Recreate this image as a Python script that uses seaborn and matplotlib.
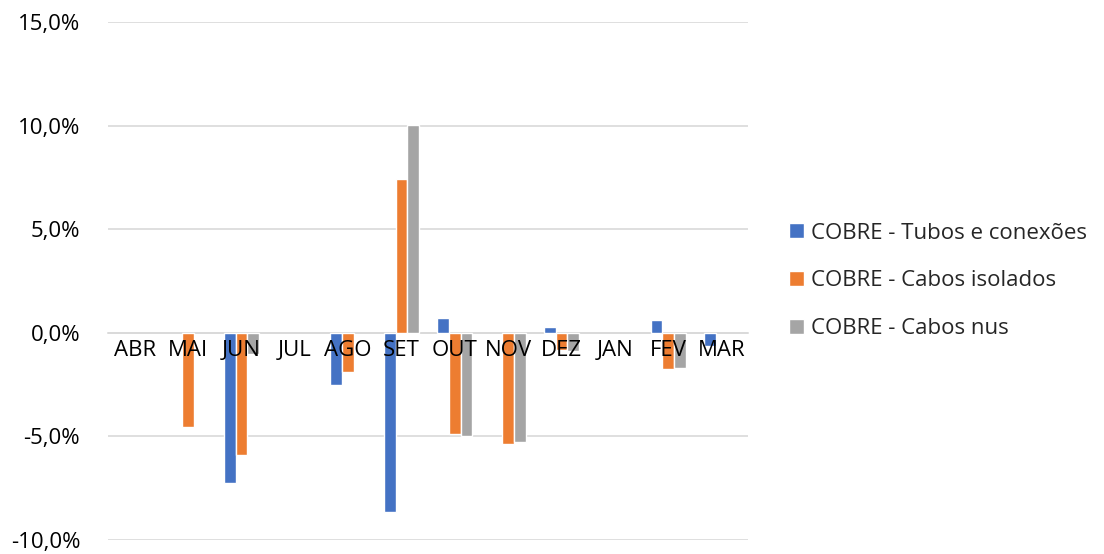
import numpy as np
import pandas as pd
import matplotlib.pyplot as plt
import seaborn as sns
from matplotlib.ticker import FuncFormatter

# data (percent); NaN = no bar
meses = ["ABR", "MAI", "JUN", "JUL", "AGO", "SET", "OUT", "NOV", "DEZ", "JAN", "FEV", "MAR"]
tubos = [np.nan, np.nan, -7.27, np.nan, -2.52, -8.64, 0.71, np.nan, 0.26, np.nan, 0.60, -0.63]
isolados = [np.nan, -4.56, -5.92, np.nan, -1.9, 7.43, -4.90, -5.35, -0.82, np.nan, -1.75, np.nan]
nus = [np.nan, np.nan, -1.04, np.nan, np.nan, 10.02, -5.00, -5.27, -0.89, np.nan, -1.70, np.nan]

series = ["COBRE - Tubos e conexões", "COBRE - Cabos isolados", "COBRE - Cabos nus"]
cores = ["#4472C4", "#ED7D31", "#A5A5A5"]

df = pd.DataFrame({
    "mes": meses * 3,
    "serie": [series[0]] * 12 + [series[1]] * 12 + [series[2]] * 12,
    "valor": tubos + isolados + nus,
})

sns.set_style("white")
plt.rcParams["font.family"] = ["Open Sans", "DejaVu Sans"]

fig = plt.figure(figsize=(11.04, 5.54), dpi=100)
ax = fig.add_axes([0.0978, 0.0253, 0.58, 0.9347])

sns.barplot(data=df, x="mes", y="valor", hue="serie", order=meses, hue_order=series,
            palette=cores, width=0.66, gap=0, saturation=1, ax=ax, legend=True)

ax.set_ylim(-10, 15)
ax.set_yticks([-10, -5, 0, 5, 10, 15])
ax.yaxis.set_major_formatter(FuncFormatter(lambda v, p: f"{v:.1f}%".replace(".", ",")))
ax.set_xlim(-0.5, 11.5)
ax.grid(axis="y", color="#D9D9D9", linewidth=1.2)
ax.set_axisbelow(True)
ax.xaxis.set_zorder(5)  # month labels drawn over the bars
for s in ["top", "right", "left"]:
    ax.spines[s].set_visible(False)
ax.spines["bottom"].set_position(("data", 0))
ax.spines["bottom"].set_color("#D9D9D9")
ax.spines["bottom"].set_linewidth(1.2)
ax.spines["bottom"].set_zorder(0.5)
ax.tick_params(axis="both", length=0, labelsize=16, colors="black")
ax.tick_params(axis="x", pad=5)
ax.tick_params(axis="y", pad=20)
ax.set_xlabel("")
ax.set_ylabel("")

handles, labels = ax.get_legend_handles_labels()
ax.legend_.remove()
fig.legend(handles, labels, loc="center left", bbox_to_anchor=(0.697, 0.493),
           frameon=False, fontsize=16, handlelength=0.65, handleheight=0.65,
           handletextpad=0.3, labelspacing=1.2)

fig.savefig("out.png", dpi=100)
